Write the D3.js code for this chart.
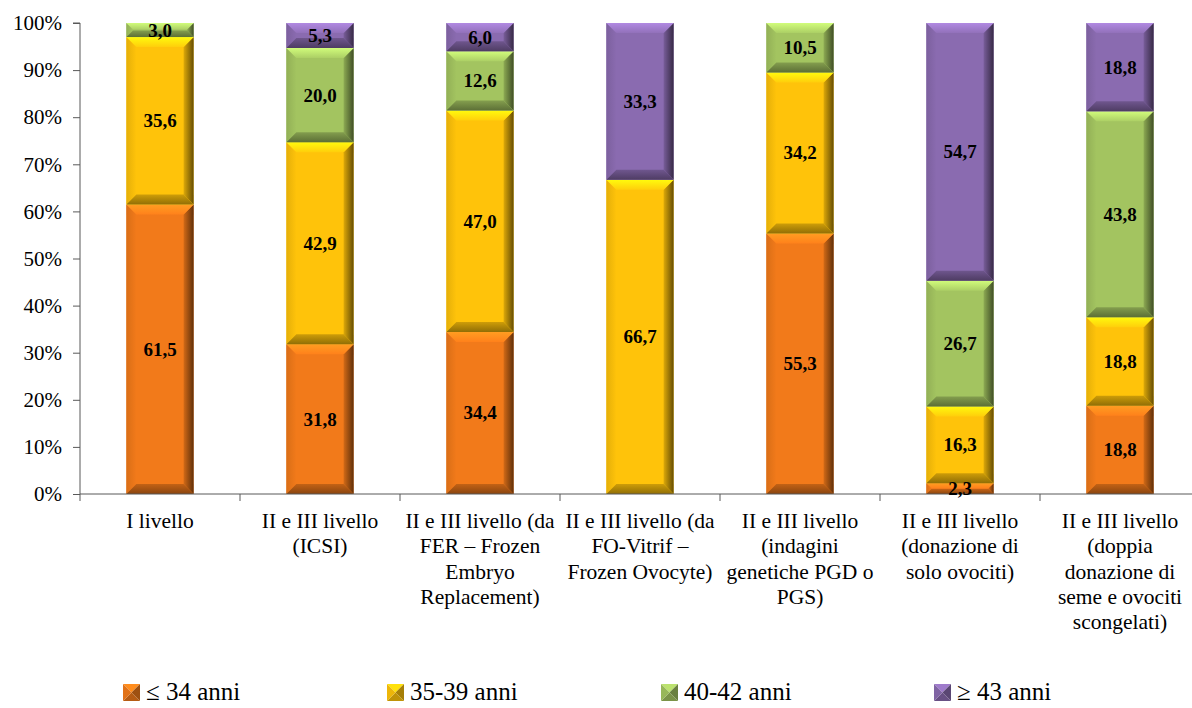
<!DOCTYPE html>
<html>
<head>
<meta charset="utf-8">
<script src="https://cdn.jsdelivr.net/npm/d3@7"></script>
<style>
  html, body { margin: 0; padding: 0; background: #fff; }
  svg { display: block; }
  svg text { font-family: 'Liberation Serif', 'DejaVu Serif', serif; fill: #000; }
</style>
</head>
<body>
<svg id="chart" width="1192" height="708"></svg>
<script>
// Category labels, one entry per bar, split into display lines
const categories = [
  ["I livello"],
  ["II e III livello", "(ICSI)"],
  ["II e III livello (da", "FER – Frozen", "Embryo", "Replacement)"],
  ["II e III livello (da", "FO-Vitrif –", "Frozen Ovocyte)"],
  ["II e III livello", "(indagini", "genetiche PGD o", "PGS)"],
  ["II e III livello", "(donazione di", "solo ovociti)"],
  ["II e III livello", "(doppia", "donazione di", "seme e ovociti", "scongelati)"]
];

const seriesNames = ["≤ 34 anni", "35-39 anni", "40-42 anni", "≥ 43 anni"];

// Percent values for each age group, in category order
const age34   = [61.5, 31.8, 34.4, 0,    55.3, 2.3,  18.8];
const age3539 = [35.6, 42.9, 47.0, 66.7, 34.2, 16.3, 18.8];
const age4042 = [3.0,  20.0, 12.6, 0,    10.5, 26.7, 43.8];
const age43   = [0,    5.3,  6.0,  33.3, 0,    54.7, 18.8];

const yTicks = [0, 0.1, 0.2, 0.3, 0.4, 0.5, 0.6, 0.7, 0.8, 0.9, 1.0];

const seriesValues = [age34, age3539, age4042, age43];
const colors = ["#F27A1A", "#FFC30A", "#A3C460", "#8A6BB0"];
const serif = "'Liberation Serif', 'DejaVu Serif', serif";

const svg = d3.select("#chart");
const plotLeft = 80, plotRight = 1200, plotTop = 23, plotBottom = 494;

const x = d3.scaleBand()
  .domain(d3.range(categories.length))
  .range([plotLeft, plotRight])
  .paddingInner(0.58)
  .paddingOuter(0.29);

const y = d3.scaleLinear().domain([0, 1]).range([plotBottom, plotTop]);

// Build rows for the 100% stack
const rows = categories.map((c, i) => {
  const r = { idx: i };
  seriesNames.forEach((s, k) => r[s] = seriesValues[k][i]);
  r.total = d3.sum(seriesValues, v => v[i]);
  return r;
});
const stack = d3.stack()
  .keys(seriesNames)
  .value((d, key) => d[key] / d.total);
const stacked = stack(rows);

// Gradients for the bevelled look
const defs = svg.append("defs");
colors.forEach((c, k) => {
  const base = d3.color(c);
  const gR = defs.append("linearGradient").attr("id", "right" + k)
    .attr("x1", "0").attr("x2", "1").attr("y1", "0").attr("y2", "0");
  gR.append("stop").attr("offset", "0%").attr("stop-color", base.darker(0.4));
  gR.append("stop").attr("offset", "100%").attr("stop-color", base.darker(2.6));
  const gT = defs.append("linearGradient").attr("id", "top" + k)
    .attr("x1", "0").attr("x2", "0").attr("y1", "0").attr("y2", "1");
  gT.append("stop").attr("offset", "0%").attr("stop-color", base.brighter(0.7));
  gT.append("stop").attr("offset", "100%").attr("stop-color", base.brighter(0.15));
  const gB = defs.append("linearGradient").attr("id", "bot" + k)
    .attr("x1", "0").attr("x2", "0").attr("y1", "0").attr("y2", "1");
  gB.append("stop").attr("offset", "0%").attr("stop-color", base.darker(0.6));
  gB.append("stop").attr("offset", "100%").attr("stop-color", base.darker(1.6));
  const gL = defs.append("linearGradient").attr("id", "left" + k)
    .attr("x1", "0").attr("x2", "1").attr("y1", "0").attr("y2", "0");
  gL.append("stop").attr("offset", "0%").attr("stop-color", base.darker(0.3));
  gL.append("stop").attr("offset", "100%").attr("stop-color", base);
});

const plot = svg.append("g");

function bevelRect(g, x0, y0, w, h, k) {
  const b = Math.max(0, Math.min(10, h / 2 - 0.5, w / 2));
  const x1 = x0 + w, y1 = y0 + h;
  const poly = pts => pts.map(p => p.join(",")).join(" ");
  g.append("rect").attr("x", x0).attr("y", y0).attr("width", w).attr("height", h)
    .attr("fill", colors[k]);
  g.append("polygon").attr("points", poly([[x0, y0], [x0 + b, y0 + b], [x0 + b, y1 - b], [x0, y1]]))
    .attr("fill", `url(#left${k})`);
  g.append("polygon").attr("points", poly([[x1, y0], [x1 - b, y0 + b], [x1 - b, y1 - b], [x1, y1]]))
    .attr("fill", `url(#right${k})`);
  g.append("polygon").attr("points", poly([[x0, y0], [x1, y0], [x1 - b, y0 + b], [x0 + b, y0 + b]]))
    .attr("fill", `url(#top${k})`);
  g.append("polygon").attr("points", poly([[x0, y1], [x1, y1], [x1 - b, y1 - b], [x0 + b, y1 - b]]))
    .attr("fill", `url(#bot${k})`);
}

stacked.forEach((layer, k) => {
  layer.forEach(d => {
    const i = d.data.idx;
    const v = d.data[layer.key];
    if (!v) return;
    const y0 = y(d[1]), y1 = y(d[0]);
    const g = plot.append("g");
    bevelRect(g, x(i), y0, x.bandwidth(), y1 - y0, k);
  });
});

// Axes
const axisColor = "#595959";
const yAxis = svg.append("g")
  .attr("transform", `translate(${plotLeft},0)`)
  .call(d3.axisLeft(y).tickValues(yTicks).tickFormat(d3.format(".0%")).tickSize(7).tickPadding(11));
yAxis.attr("font-family", serif).attr("font-size", 21);
yAxis.select(".domain").attr("stroke", axisColor).attr("d", `M-7,${plotTop}H0V${plotBottom}`);
yAxis.selectAll(".tick line").attr("stroke", axisColor);
yAxis.selectAll(".tick text").attr("font-family", serif).attr("font-size", 21).attr("fill", "#000");

// Horizontal axis with boundary ticks between categories
const xAxisG = svg.append("g");
xAxisG.append("line").attr("x1", plotLeft).attr("x2", 1192).attr("y1", plotBottom).attr("y2", plotBottom)
  .attr("stroke", axisColor);
const step = x.step();
d3.range(categories.length + 1).forEach(j => {
  const bx = plotLeft + j * step;
  xAxisG.append("line").attr("x1", bx).attr("x2", bx).attr("y1", plotBottom).attr("y2", plotBottom + 7)
    .attr("stroke", axisColor);
});

// Category labels
categories.forEach((lines, i) => {
  const cx = x(i) + x.bandwidth() / 2;
  const t = svg.append("text").attr("text-anchor", "middle")
    .attr("font-family", serif).attr("font-size", 21.5);
  lines.forEach((ln, j) => {
    t.append("tspan").attr("x", cx).attr("y", 528 + j * 25.3).text(ln);
  });
});

// Value labels
stacked.forEach((layer, k) => {
  layer.forEach(d => {
    const v = d.data[layer.key];
    if (!v) return;
    const cx = x(d.data.idx) + x.bandwidth() / 2;
    const cy = (y(d[0]) + y(d[1])) / 2;
    svg.append("text").attr("x", cx).attr("y", cy + 6.5)
      .attr("text-anchor", "middle")
      .attr("font-family", serif).attr("font-size", 19).attr("font-weight", "bold")
      .text(d3.format(".1f")(v).replace(".", ","));
  });
});

// Legend
const legendX = [123, 387, 661, 934];
seriesNames.forEach((s, k) => {
  const g = svg.append("g");
  const lx = legendX[k];
  const sz = 17;
  const top0 = 684;
  const base = d3.color(colors[k]);
  const cx = lx + sz / 2, cy = top0 + sz / 2;
  const poly = pts => pts.map(p => p.join(",")).join(" ");
  g.append("polygon").attr("points", poly([[lx, top0], [lx + sz, top0], [cx, cy]])).attr("fill", base.brighter(0.4));
  g.append("polygon").attr("points", poly([[lx + sz, top0], [lx + sz, top0 + sz], [cx, cy]])).attr("fill", base.darker(1.2));
  g.append("polygon").attr("points", poly([[lx, top0 + sz], [lx + sz, top0 + sz], [cx, cy]])).attr("fill", base.darker(0.8));
  g.append("polygon").attr("points", poly([[lx, top0], [lx, top0 + sz], [cx, cy]])).attr("fill", base.darker(0.2));
  g.append("text").attr("x", lx + sz + 6).attr("y", 700)
    .attr("font-family", serif).attr("font-size", 25).text(s);
});
</script>
</body>
</html>
